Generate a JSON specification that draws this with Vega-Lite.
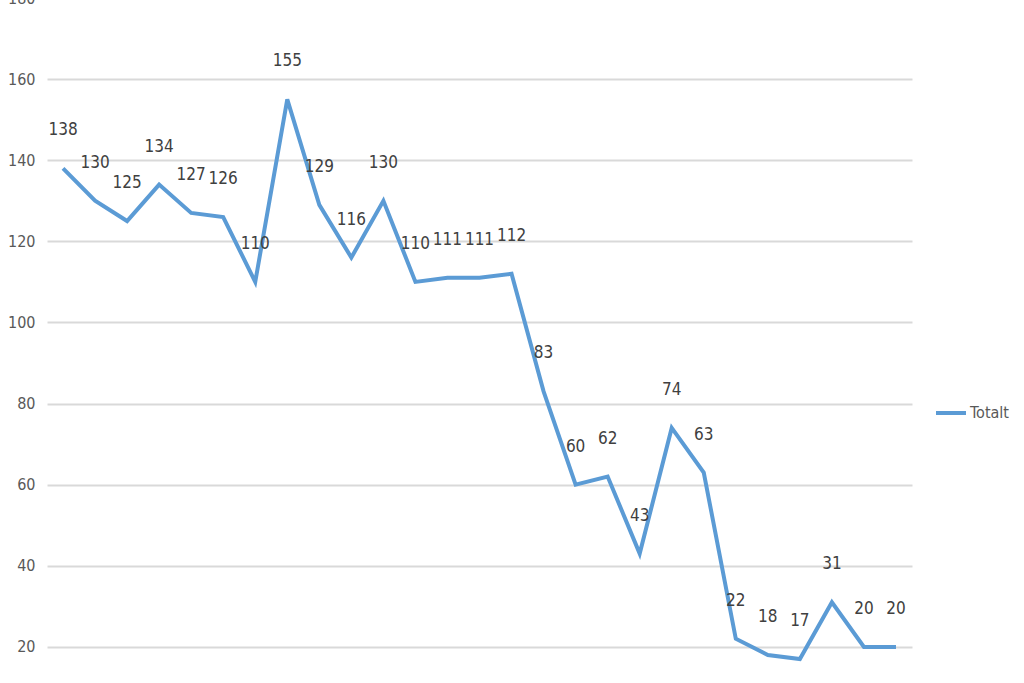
{
  "$schema": "https://vega.github.io/schema/vega-lite/v6.json",
  "width": 865,
  "height": 730,
  "autosize": {"type": "none"},
  "padding": {"left": 47, "top": -2, "right": 112, "bottom": 0},
  "background": "white",
  "config": {
    "view": {"stroke": null},
    "font": "DejaVu Sans Condensed, Roboto, sans-serif",
    "axis": {"labelFont": "DejaVu Sans Condensed, Roboto, sans-serif", "labelColor": "#595959"},
    "legend": {"labelFont": "DejaVu Sans Condensed, Roboto, sans-serif"}
  },
  "data": {
    "values": [
      {"i": 1, "v": 138, "s": "Totalt"},
      {"i": 2, "v": 130, "s": "Totalt"},
      {"i": 3, "v": 125, "s": "Totalt"},
      {"i": 4, "v": 134, "s": "Totalt"},
      {"i": 5, "v": 127, "s": "Totalt"},
      {"i": 6, "v": 126, "s": "Totalt"},
      {"i": 7, "v": 110, "s": "Totalt"},
      {"i": 8, "v": 155, "s": "Totalt"},
      {"i": 9, "v": 129, "s": "Totalt"},
      {"i": 10, "v": 116, "s": "Totalt"},
      {"i": 11, "v": 130, "s": "Totalt"},
      {"i": 12, "v": 110, "s": "Totalt"},
      {"i": 13, "v": 111, "s": "Totalt"},
      {"i": 14, "v": 111, "s": "Totalt"},
      {"i": 15, "v": 112, "s": "Totalt"},
      {"i": 16, "v": 83, "s": "Totalt"},
      {"i": 17, "v": 60, "s": "Totalt"},
      {"i": 18, "v": 62, "s": "Totalt"},
      {"i": 19, "v": 43, "s": "Totalt"},
      {"i": 20, "v": 74, "s": "Totalt"},
      {"i": 21, "v": 63, "s": "Totalt"},
      {"i": 22, "v": 22, "s": "Totalt"},
      {"i": 23, "v": 18, "s": "Totalt"},
      {"i": 24, "v": 17, "s": "Totalt"},
      {"i": 25, "v": 31, "s": "Totalt"},
      {"i": 26, "v": 20, "s": "Totalt"},
      {"i": 27, "v": 20, "s": "Totalt"}
    ]
  },
  "encoding": {
    "x": {
      "field": "i", "type": "ordinal",
      "scale": {"type": "point", "padding": 0.5},
      "axis": null
    },
    "y": {
      "field": "v", "type": "quantitative",
      "scale": {"domain": [0, 180], "nice": false, "zero": true},
      "axis": {
        "values": [20, 40, 60, 80, 100, 120, 140, 160, 180],
        "domain": false, "ticks": false,
        "grid": true, "gridColor": "#d9d9d9", "gridWidth": 2,
        "labelFontSize": 16, "labelPadding": 12, "title": null
      }
    }
  },
  "layer": [
    {
      "mark": {"type": "line", "strokeWidth": 4, "strokeJoin": "miter", "strokeCap": "butt"},
      "encoding": {
        "color": {
          "field": "s", "type": "nominal",
          "scale": {"range": ["#5B9BD5"]},
          "legend": {
            "title": null, "orient": "none", "legendX": 887, "legendY": 398,
            "symbolType": "stroke", "symbolStrokeWidth": 4, "symbolSize": 900,
            "labelFontSize": 16, "labelColor": "#595959", "labelOffset": 2
          }
        }
      }
    },
    {
      "mark": {"type": "text", "dy": -38, "fontSize": 17, "color": "#404040", "baseline": "middle"},
      "encoding": {"text": {"field": "v", "type": "quantitative"}}
    }
  ]
}
